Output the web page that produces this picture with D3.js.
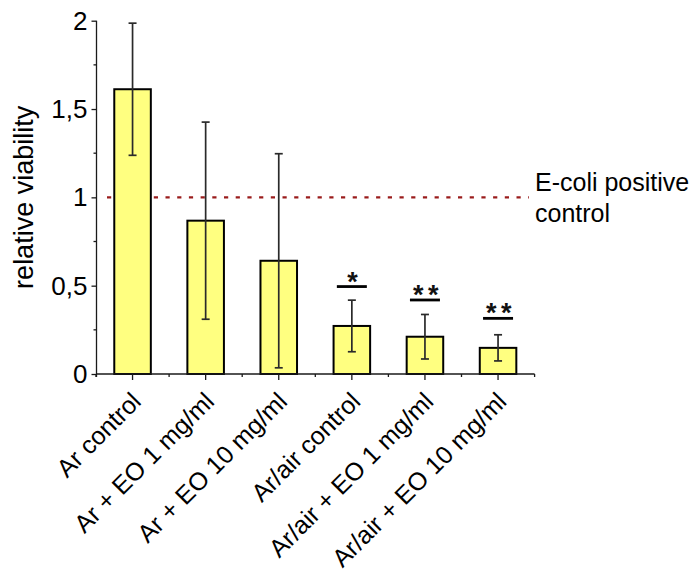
<!DOCTYPE html>
<html>
<head>
<meta charset="utf-8">
<script src="https://cdn.jsdelivr.net/npm/d3@7"></script>
<style>
  html, body { margin: 0; padding: 0; background: #fff; }
  svg { display: block; font-family: Arial, "Liberation Sans", sans-serif; }
</style>
</head>
<body>
<svg id="chart" width="693" height="572"></svg>
<script>
// Treatment groups and measured relative viability (mean ± error)
const categories = [
  "Ar control",
  "Ar + EO 1 mg/ml",
  "Ar + EO 10 mg/ml",
  "Ar/air control",
  "Ar/air + EO 1 mg/ml",
  "Ar/air + EO 10 mg/ml"
];
const viability = [1.612, 0.868, 0.641, 0.272, 0.211, 0.148];
const viabilityError = [0.374, 0.558, 0.606, 0.146, 0.126, 0.074];

// Significance markers and the level of their bracket line
const significance = ["", "", "", "*", "* *", "* *"];
const significanceLevel = [null, null, null, 0.495, 0.419, 0.315];

// Reference level (positive control)
const referenceLevel = 1;
const referenceLabel = ["E-coli positive", "control"];

// Axis ticks
const yMajorTicks = [0, 0.5, 1, 1.5, 2];
const yMinorTicks = [0.25, 0.75, 1.25, 1.75];
const yTitle = "relative viability";

const svg = d3.select("#chart");
const axisColor = "#1a1a1a";
const textColor = "#000";

const x = d3.scaleBand()
  .domain(categories)
  .range([96, 534.6])
  .paddingInner(0.5)
  .paddingOuter(0.25);

const y = d3.scaleLinear()
  .domain([0, 2])
  .range([374, 20.7]);

const commaLocale = d3.formatLocale({ decimal: ",", thousands: ".", grouping: [3], currency: ["", ""] });
const fmt = commaLocale.format("~g");

const rows = categories.map((c, i) => ({
  cat: c,
  v: viability[i],
  e: viabilityError[i],
  sig: significance[i],
  lvl: significanceLevel[i]
}));

// Reference dashed line
svg.append("line")
  .attr("x1", 107).attr("x2", 529)
  .attr("y1", y(referenceLevel)).attr("y2", y(referenceLevel))
  .attr("stroke", "#9a1c1c")
  .attr("stroke-width", 2.2)
  .attr("stroke-dasharray", "4.2,7.5");

// Bars
svg.append("g").selectAll("rect")
  .data(rows)
  .join("rect")
  .attr("x", d => x(d.cat))
  .attr("y", d => y(d.v))
  .attr("width", x.bandwidth())
  .attr("height", d => y(0) - y(d.v))
  .attr("fill", "#ffff80")
  .attr("stroke", "#000")
  .attr("stroke-width", 2);

// Error bars
const eb = svg.append("g")
  .attr("stroke", "#2a2a2a")
  .attr("stroke-width", 1.7)
  .selectAll("g")
  .data(rows)
  .join("g")
  .attr("transform", d => `translate(${x(d.cat) + x.bandwidth() / 2},0)`);
eb.append("line")
  .attr("y1", d => y(d.v + d.e)).attr("y2", d => y(d.v - d.e));
eb.append("line")
  .attr("x1", -4).attr("x2", 4)
  .attr("y1", d => y(d.v + d.e)).attr("y2", d => y(d.v + d.e));
eb.append("line")
  .attr("x1", -4).attr("x2", 4)
  .attr("y1", d => y(d.v - d.e)).attr("y2", d => y(d.v - d.e));

// Significance brackets
const sigRows = rows.filter(d => d.lvl !== null);
const sg = svg.append("g").selectAll("g")
  .data(sigRows)
  .join("g")
  .attr("transform", d => `translate(${x(d.cat) + x.bandwidth() / 2},${y(d.lvl)})`);
sg.append("line")
  .attr("x1", -15).attr("x2", 15)
  .attr("stroke", "#000").attr("stroke-width", 2.8);
sg.append("text")
  .attr("y", 4)
  .attr("text-anchor", "middle")
  .attr("font-size", 27)
  .attr("font-weight", "bold")
  .attr("letter-spacing", -1.5)
  .attr("fill", "#111")
  .text(d => d.sig);

// Y axis
const yAxis = svg.append("g")
  .attr("transform", "translate(96.5,0)")
  .call(d3.axisLeft(y).tickValues(yMajorTicks).tickSize(5).tickPadding(4).tickFormat(fmt));
yAxis.select(".domain").remove();
yAxis.selectAll(".tick line").attr("stroke", axisColor).attr("stroke-width", 1.3);
yAxis.selectAll(".tick text")
  .attr("font-size", 26)
  .attr("font-family", "Arial, 'Liberation Sans', sans-serif")
  .attr("fill", textColor);
yAxis.append("line")
  .attr("y1", y(0) + 3).attr("y2", y(2))
  .attr("stroke", axisColor).attr("stroke-width", 1.3);
yAxis.selectAll(".minor")
  .data(yMinorTicks)
  .join("line")
  .attr("class", "minor")
  .attr("x1", -3).attr("x2", 0)
  .attr("y1", d => y(d)).attr("y2", d => y(d))
  .attr("stroke", axisColor).attr("stroke-width", 1.3);

// X axis
const xAxis = svg.append("g")
  .attr("transform", `translate(0,${y(0)})`)
  .call(d3.axisBottom(x).tickSize(6).tickFormat(""));
xAxis.select(".domain").remove();
xAxis.selectAll(".tick line").attr("stroke", axisColor).attr("stroke-width", 1.3);
xAxis.append("line")
  .attr("x1", x.range()[0]).attr("x2", x.range()[1])
  .attr("stroke", axisColor).attr("stroke-width", 1.3);
const boundaries = d3.range(categories.length + 1).map(k => x.range()[0] + k * x.step());
xAxis.selectAll(".minor")
  .data(boundaries)
  .join("line")
  .attr("class", "minor")
  .attr("x1", d => d).attr("x2", d => d)
  .attr("y1", 0).attr("y2", 3)
  .attr("stroke", axisColor).attr("stroke-width", 1.3);

// Category labels, rotated
svg.append("g").selectAll("text")
  .data(categories)
  .join("text")
  .attr("transform", d => `translate(${x(d) + x.bandwidth() / 2 + 10},${y(0) + 29}) rotate(-45)`)
  .attr("text-anchor", "end")
  .attr("font-size", 25)
  .attr("fill", textColor)
  .text(d => d);

// Y axis title
svg.append("text")
  .attr("transform", `translate(33,${(y(0) + y(2)) / 2}) rotate(-90)`)
  .attr("text-anchor", "middle")
  .attr("font-size", 27)
  .attr("fill", textColor)
  .text(yTitle);

// Reference label
svg.append("text")
  .attr("x", 535)
  .attr("y", 190.5)
  .attr("font-size", 25)
  .attr("fill", textColor)
  .selectAll("tspan")
  .data(referenceLabel)
  .join("tspan")
  .attr("x", 535)
  .attr("dy", (d, i) => i === 0 ? 0 : 31.5)
  .text(d => d);
</script>
</body>
</html>
